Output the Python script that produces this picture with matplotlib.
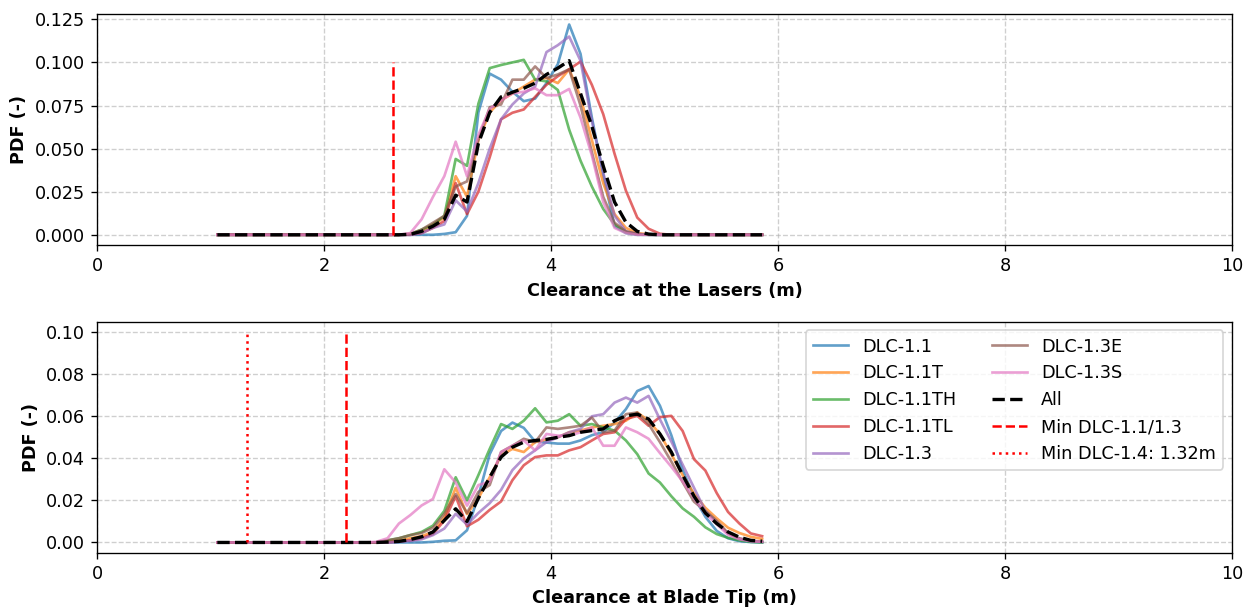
import numpy as np
import matplotlib
matplotlib.use("Agg")
import matplotlib.pyplot as plt

plt.rcParams["font.size"] = 10.6

# Bin centres of the clearance histograms (m)
clearance_bins = np.linspace(1.06, 5.86, 49)

series_names = ["DLC-1.1", "DLC-1.1T", "DLC-1.1TH", "DLC-1.1TL",
                "DLC-1.3", "DLC-1.3E", "DLC-1.3S"]

# ---- Clearance at the lasers: PDF per load case (bins 1.06 .. 5.86) ----
z16 = [0.0] * 16
z7 = [0.0] * 7
laser_dlc11 = z16 + [0, 0, 0, 0, 0.0005, 0.0015, 0.011, 0.071, 0.0935, 0.090, 0.083, 0.0775, 0.079,
                     0.088, 0.099, 0.122, 0.105, 0.068, 0.035, 0.005, 0.001, 0, 0, 0, 0, 0] + z7
laser_dlc11t = z16 + [0, 0.0005, 0.002, 0.006, 0.010, 0.034, 0.022, 0.055, 0.071, 0.078, 0.082, 0.086, 0.090,
                      0.091, 0.088, 0.096, 0.080, 0.055, 0.030, 0.012, 0.004, 0.001, 0.0003, 0, 0, 0] + z7
laser_dlc11th = z16 + [0, 0.0005, 0.003, 0.006, 0.011, 0.044, 0.040, 0.076, 0.0967, 0.0985, 0.100, 0.1015, 0.090,
                       0.089, 0.084, 0.061, 0.043, 0.028, 0.015, 0.006, 0.0015, 0.0003, 0, 0, 0, 0] + z7
laser_dlc11tl = z16 + [0, 0, 0.001, 0.004, 0.008, 0.030, 0.012, 0.025, 0.045, 0.067, 0.0708, 0.0727, 0.080,
                       0.087, 0.092, 0.096, 0.1005, 0.087, 0.070, 0.047, 0.0256, 0.010, 0.0035, 0.0006, 0, 0] + z7
laser_dlc13 = z16 + [0, 0, 0.001, 0.004, 0.006, 0.020, 0.0135, 0.030, 0.050, 0.067, 0.0756, 0.082, 0.086,
                     0.106, 0.110, 0.115, 0.101, 0.066, 0.036, 0.011, 0.002, 0.0005, 0, 0, 0, 0] + z7
laser_dlc13e = z16 + [0, 0.0005, 0.003, 0.007, 0.011, 0.028, 0.031, 0.055, 0.074, 0.0756, 0.090, 0.090, 0.0977,
                      0.091, 0.093, 0.096, 0.075, 0.048, 0.022, 0.007, 0.002, 0.0005, 0, 0, 0, 0] + z7
laser_dlc13s = z16 + [0, 0.001, 0.009, 0.022, 0.034, 0.054, 0.034, 0.058, 0.073, 0.078, 0.082, 0.083, 0.085,
                      0.081, 0.081, 0.0846, 0.068, 0.046, 0.019, 0.004, 0.001, 0, 0, 0, 0, 0] + z7
laser_all = z16 + [0, 0.0003, 0.002, 0.005, 0.009, 0.023, 0.019, 0.053, 0.071, 0.080, 0.0827, 0.085, 0.088,
                   0.093, 0.0967, 0.101, 0.082, 0.063, 0.040, 0.019, 0.0073, 0.002, 0.0004, 0, 0, 0] + z7

# ---- Clearance at the blade tip: PDF per load case (bins 1.06 .. 5.86) ----
z14 = [0.0] * 14
tip_dlc11 = z14 + [0, 0, 0, 0, 0, 0.0003, 0.0008, 0.001, 0.0058, 0.022, 0.042, 0.053, 0.057, 0.0545,
                   0.048, 0.0475, 0.047, 0.047, 0.0485, 0.051, 0.0525, 0.057, 0.0634, 0.072, 0.0744,
                   0.065, 0.051, 0.0345, 0.0217, 0.0122, 0.0055, 0.002, 0.0006, 0.0002, 0]
tip_dlc11t = z14 + [0, 0.0005, 0.001, 0.002, 0.003, 0.005, 0.012, 0.026, 0.0135, 0.021, 0.031, 0.0414,
                    0.0445, 0.043, 0.0477, 0.049, 0.050, 0.0524, 0.0532, 0.0547, 0.0555, 0.0563, 0.0579,
                    0.0618, 0.0579, 0.0515, 0.042, 0.032, 0.0232, 0.0165, 0.0115, 0.007, 0.0045,
                    0.0027, 0.0017]
tip_dlc11th = z14 + [0, 0.001, 0.002, 0.0035, 0.005, 0.008, 0.015, 0.031, 0.020, 0.032, 0.0445, 0.0563,
                     0.054, 0.0579, 0.0638, 0.0571, 0.0579, 0.061, 0.0555, 0.0563, 0.0547, 0.0532,
                     0.0485, 0.042, 0.0328, 0.0285, 0.022, 0.0162, 0.0122, 0.0072, 0.004, 0.0022,
                     0.001, 0.0003, 0]
tip_dlc11tl = z14 + [0, 0, 0.0005, 0.001, 0.002, 0.004, 0.0105, 0.022, 0.0077, 0.0108, 0.0155, 0.0195,
                     0.0296, 0.0367, 0.0406, 0.0414, 0.0414, 0.0438, 0.0453, 0.0485, 0.0516, 0.0524,
                     0.0587, 0.0602, 0.0555, 0.0596, 0.0602, 0.053, 0.0396, 0.0342, 0.0235, 0.0145,
                     0.009, 0.0043, 0.003]
tip_dlc13 = z14 + [0, 0, 0.0003, 0.0008, 0.0015, 0.0035, 0.0066, 0.0136, 0.0085, 0.014, 0.0187, 0.025,
                   0.0344, 0.040, 0.0438, 0.0477, 0.050, 0.0524, 0.054, 0.060, 0.061, 0.0665, 0.0689,
                   0.0665, 0.0697, 0.0585, 0.048, 0.037, 0.026, 0.015, 0.0097, 0.0042, 0.0019,
                   0.0006, 0.0003]
tip_dlc13e = z14 + [0, 0.001, 0.002, 0.0035, 0.0045, 0.007, 0.0136, 0.023, 0.014, 0.024, 0.0273, 0.043,
                    0.046, 0.0493, 0.0477, 0.0547, 0.054, 0.0547, 0.0555, 0.0594, 0.0524, 0.0532, 0.061,
                    0.0618, 0.0563, 0.0477, 0.0385, 0.0287, 0.0194, 0.015, 0.0103, 0.0044, 0.0019,
                    0.0008, 0.0004]
tip_dlc13s = z14 + [0.0003, 0.002, 0.009, 0.013, 0.0176, 0.0207, 0.0348, 0.0285, 0.0175, 0.0273, 0.0289,
                    0.043, 0.046, 0.0485, 0.0438, 0.0516, 0.0508, 0.0508, 0.0524, 0.0547, 0.046, 0.046,
                    0.0547, 0.0524, 0.0493, 0.0425, 0.036, 0.029, 0.021, 0.0138, 0.0087, 0.0036,
                    0.0015, 0.0006, 0.0003]
tip_all = z14 + [0, 0.0002, 0.0005, 0.0014, 0.0027, 0.005, 0.0105, 0.016, 0.010, 0.021, 0.031, 0.0406,
                 0.0453, 0.0477, 0.0485, 0.049, 0.050, 0.0508, 0.0524, 0.0532, 0.054, 0.0579, 0.0602,
                 0.061, 0.0587, 0.0516, 0.043, 0.032, 0.022, 0.014, 0.009, 0.005, 0.0025, 0.001, 0.0006]

# Minimum clearance markers (m) and their height on the PDF axis
laser_min_dlc11_13 = 2.61
tip_min_dlc11_13 = 2.19
tip_min_dlc14 = 1.32
marker_top = 0.1

laser_series = [laser_dlc11, laser_dlc11t, laser_dlc11th, laser_dlc11tl,
                laser_dlc13, laser_dlc13e, laser_dlc13s]
tip_series = [tip_dlc11, tip_dlc11t, tip_dlc11th, tip_dlc11tl,
              tip_dlc13, tip_dlc13e, tip_dlc13s]

colors = plt.rcParams["axes.prop_cycle"].by_key()["color"]

fig, (ax1, ax2) = plt.subplots(2, 1, figsize=(1252 / 120, 608 / 120), dpi=120)
fig.subplots_adjust(left=0.0775, right=0.984, top=0.977, bottom=0.0905, hspace=0.33)

for ax, series, total in ((ax1, laser_series, laser_all), (ax2, tip_series, tip_all)):
    for name, vals, c in zip(series_names, series, colors):
        ax.plot(clearance_bins, vals, color=c, lw=1.6, alpha=0.7, label=name)
    ax.plot(clearance_bins, total, color="black", lw=2, ls="--", label="All")

ax1.vlines(laser_min_dlc11_13, 0, marker_top, colors="red", linestyles="--", lw=1.5)
ax2.vlines(tip_min_dlc11_13, 0, marker_top, colors="red", linestyles="--", lw=1.5,
           label="Min DLC-1.1/1.3")
ax2.vlines(tip_min_dlc14, 0, marker_top, colors="red", linestyles=":", lw=1.5,
           label=f"Min DLC-1.4: {tip_min_dlc14:.2f}m")

ax1.set_xlabel("Clearance at the Lasers (m)", fontweight="bold")
ax2.set_xlabel("Clearance at Blade Tip (m)", fontweight="bold")
for ax in (ax1, ax2):
    ax.set_ylabel("PDF (-)", fontweight="bold")
    ax.set_xlim(0, 10)
    ax.grid(True, linestyle="--", alpha=0.6)

ax2.legend(loc="upper right", ncol=2)

fig.savefig("out.png", dpi=120)
